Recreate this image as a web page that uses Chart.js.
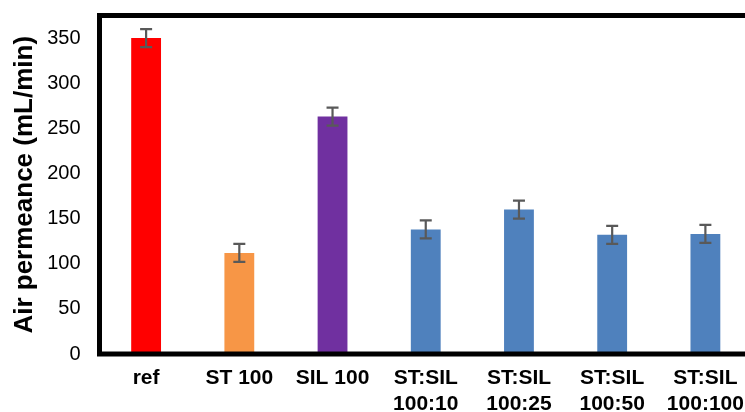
<!DOCTYPE html>
<html>
<head>
<meta charset="utf-8">
<script src="https://cdn.jsdelivr.net/npm/chart.js@4"></script>
<style>
  html, body { margin: 0; padding: 0; overflow: hidden; background: #fff; }
  #wrap { width: 758px; height: 412px; }
</style>
</head>
<body>
<div id="wrap"><canvas id="permChart" width="758" height="412"></canvas></div>
<script>
const categories = ['ref', 'ST 100', 'SIL 100', ['ST:SIL', '100:10'], ['ST:SIL', '100:25'], ['ST:SIL', '100:50'], ['ST:SIL', '100:100']];
const permeance = [350, 112, 263, 138, 160, 132, 133];
const permeanceErr = [10, 10, 10, 10, 10, 10, 10];
const barColors = ['#FF0000', '#F79646', '#7030A0', '#4F81BD', '#4F81BD', '#4F81BD', '#4F81BD'];
const yTicks = [0, 50, 100, 150, 200, 250, 300, 350];

// error bars drawn over each bar, from the y scale
const errorBars = {
    id: 'errorBars',
    afterDatasetsDraw(chart) {
        const ctx = chart.ctx;
        const y = chart.scales.y;
        const meta = chart.getDatasetMeta(0);
        ctx.save();
        ctx.strokeStyle = '#595959';
        ctx.lineWidth = 2.2;
        meta.data.forEach((bar, i) => {
            const top = y.getPixelForValue(permeance[i] + permeanceErr[i]);
            const bot = y.getPixelForValue(permeance[i] - permeanceErr[i]);
            ctx.beginPath();
            ctx.moveTo(bar.x, top);
            ctx.lineTo(bar.x, bot);
            ctx.moveTo(bar.x - 6, top);
            ctx.lineTo(bar.x + 6, top);
            ctx.moveTo(bar.x - 6, bot);
            ctx.lineTo(bar.x + 6, bot);
            ctx.stroke();
        });
        ctx.restore();
    }
};

// thick black frame round the plot area
const frame = {
    id: 'frame',
    afterDatasetsDraw(chart) {
        const { ctx, chartArea: a } = chart;
        ctx.save();
        ctx.strokeStyle = '#000';
        ctx.lineWidth = 5;
        ctx.strokeRect(a.left, a.top, a.right - a.left, a.bottom - a.top);
        ctx.restore();
    }
};

const canvas = document.getElementById('permChart');
new Chart(canvas.getContext('2d'), {
    type: 'bar',
    data: {
        labels: categories,
        datasets: [{
            data: permeance,
            backgroundColor: barColors,
            borderWidth: 0,
            categoryPercentage: 1,
            barPercentage: 0.32
        }]
    },
    options: {
        responsive: false,
        animation: false,
        devicePixelRatio: 1,
        layout: { padding: { top: 15.5, right: 6, left: 0, bottom: 0 } },
        plugins: {
            legend: { display: false },
            tooltip: { enabled: false }
        },
        scales: {
            x: {
                grid: { display: false, drawTicks: false },
                border: { display: false },
                ticks: {
                    color: '#000',
                    padding: 12,
                    maxRotation: 0,
                    autoSkip: false,
                    font: { family: 'Liberation Sans, Arial, sans-serif', size: 21, weight: 'bold', lineHeight: 1.2 }
                },
                afterFit(scale) {
                    scale.height = 58;
                    scale.paddingLeft = 0;
                    scale.paddingRight = 0;
                }
            },
            y: {
                min: 0,
                max: 375,
                grid: { display: false, drawTicks: false },
                border: { display: false },
                afterBuildTicks(scale) {
                    scale.ticks = yTicks.map(v => ({ value: v }));
                },
                ticks: {
                    color: '#000',
                    padding: 19,
                    font: { family: 'Liberation Sans, Arial, sans-serif', size: 20 }
                },
                title: {
                    display: true,
                    text: 'Air permeance (mL/min)',
                    color: '#000',
                    padding: { top: 9, bottom: 0 },
                    font: { family: 'Liberation Sans, Arial, sans-serif', size: 26, weight: 'bold', lineHeight: 1.2 }
                },
                afterFit(scale) {
                    scale.width = 99.5;
                    scale.paddingTop = 0;
                    scale.paddingBottom = 0;
                }
            }
        }
    },
    plugins: [errorBars, frame]
});
</script>
</body>
</html>
